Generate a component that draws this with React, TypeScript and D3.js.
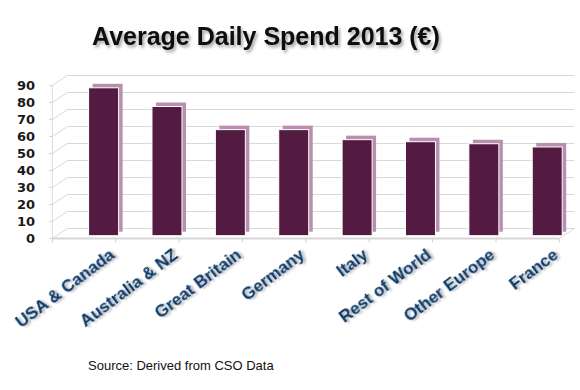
import React from "react";
import * as d3 from "d3";

const categories = ["USA & Canada", "Australia & NZ", "Great Britain", "Germany", "Italy", "Rest of World", "Other Europe", "France"];
const values = [87, 76, 62.4, 62.4, 56.5, 55.3, 54.1, 52.2];
const yTicks = [0, 10, 20, 30, 40, 50, 60, 70, 80, 90];
const title = "Average Daily Spend 2013 (€)";
const source = "Source: Derived from CSO Data";

const W = 580;
const H = 390;
const DX = 15;
const DY = -10;

export default function App() {
  const x = d3.scaleBand<string>().domain(categories).range([52.3, 559.3]).padding(0);
  const yFront = d3.scaleLinear().domain([0, 90]).range([238.5, 85.5]);
  const yBack = d3.scaleLinear().domain([0, 90]).range([238.5 + DY, 85.5 + DY]);
  const yBar = d3.scaleLinear().domain([0, 90]).range([235.7, 82.7]);
  const barOff = 36.3;
  const barW = 30;
  const left = x.range()[0];
  const right = x.range()[1];

  return (
    <svg width={W} height={H} style={{ position: "absolute", left: 0, top: 0, background: "#fff" }}>
      <defs>
        <filter id="tshadow" x="-10%" y="-30%" width="130%" height="180%">
          <feDropShadow dx="2" dy="2.5" stdDeviation="1.4" floodColor="#000" floodOpacity="0.35" />
        </filter>
        <filter id="lshadow" x="-10%" y="-40%" width="130%" height="200%">
          <feDropShadow dx="2" dy="2" stdDeviation="1.3" floodColor="#000" floodOpacity="0.3" />
        </filter>
      </defs>

      {yTicks.map((t) => (
        <g key={"g" + t}>
          <line x1={left + DX} x2={right + DX} y1={yBack(t)} y2={yBack(t)} stroke="#d9d9d9" strokeWidth={1} />
          <line x1={left} x2={left + DX} y1={yFront(t)} y2={yBack(t)} stroke="#d9d9d9" strokeWidth={1} />
          <line x1={left - 3} x2={left} y1={yFront(t)} y2={yFront(t)} stroke="#d0d0d0" strokeWidth={1} />
        </g>
      ))}
      <line x1={left} x2={left} y1={yFront(90)} y2={yFront(0) + 2} stroke="#d9d9d9" strokeWidth={1} />
      <line x1={left} x2={right} y1={yFront(0)} y2={yFront(0)} stroke="#d6d6d6" strokeWidth={2} />
      <line x1={right} x2={right + DX} y1={yFront(0)} y2={yBack(0)} stroke="#d6d6d6" strokeWidth={1} />
      {[...categories.map((c) => x(c) as number), right].map((px, i) => (
        <line key={"t" + i} x1={px} x2={px} y1={yFront(0)} y2={yFront(0) + 4} stroke="#d0d0d0" strokeWidth={1} />
      ))}

      {categories.map((c, i) => {
        const bx = (x(c) as number) + barOff;
        const by = yBar(values[i]);
        const bh = yBar(0) - by;
        return (
          <g key={"b" + c}>
            <rect x={bx + 4} y={by - 4} width={barW} height={bh} fill="#b88fac" />
            <rect x={bx} y={by} width={barW} height={bh} fill="#531b42" stroke="#ffffff" strokeWidth={1} />
          </g>
        );
      })}

      {yTicks.map((t) => (
        <text key={"y" + t} x={35} y={yFront(t)} dy="0.36em" textAnchor="end"
          fontFamily="'DejaVu Sans', Verdana, sans-serif" fontWeight="bold" fontSize={13} fill="#1a1a1a">
          {t}
        </text>
      ))}

      {categories.map((c) => {
        const cx = (x(c) as number) + barOff + barW / 2 + 12;
        const cy = 257;
        return (
          <text key={"x" + c} transform={`translate(${cx},${cy}) rotate(-37)`} textAnchor="end"
            fontFamily="'Liberation Sans', Arial, sans-serif" fontWeight="bold" fontSize={17} fill="#0a3868"
            filter="url(#lshadow)">
            {c}
          </text>
        );
      })}

      <text x={92} y={45} fontFamily="'Liberation Sans', Arial, sans-serif" fontWeight="bold" fontSize={25}
        fill="#0a0a0a" filter="url(#tshadow)">
        {title}
      </text>

      <text x={88} y={370} fontFamily="'Liberation Sans', Arial, sans-serif" fontSize={13} fill="#111">
        {source}
      </text>
    </svg>
  );
}
